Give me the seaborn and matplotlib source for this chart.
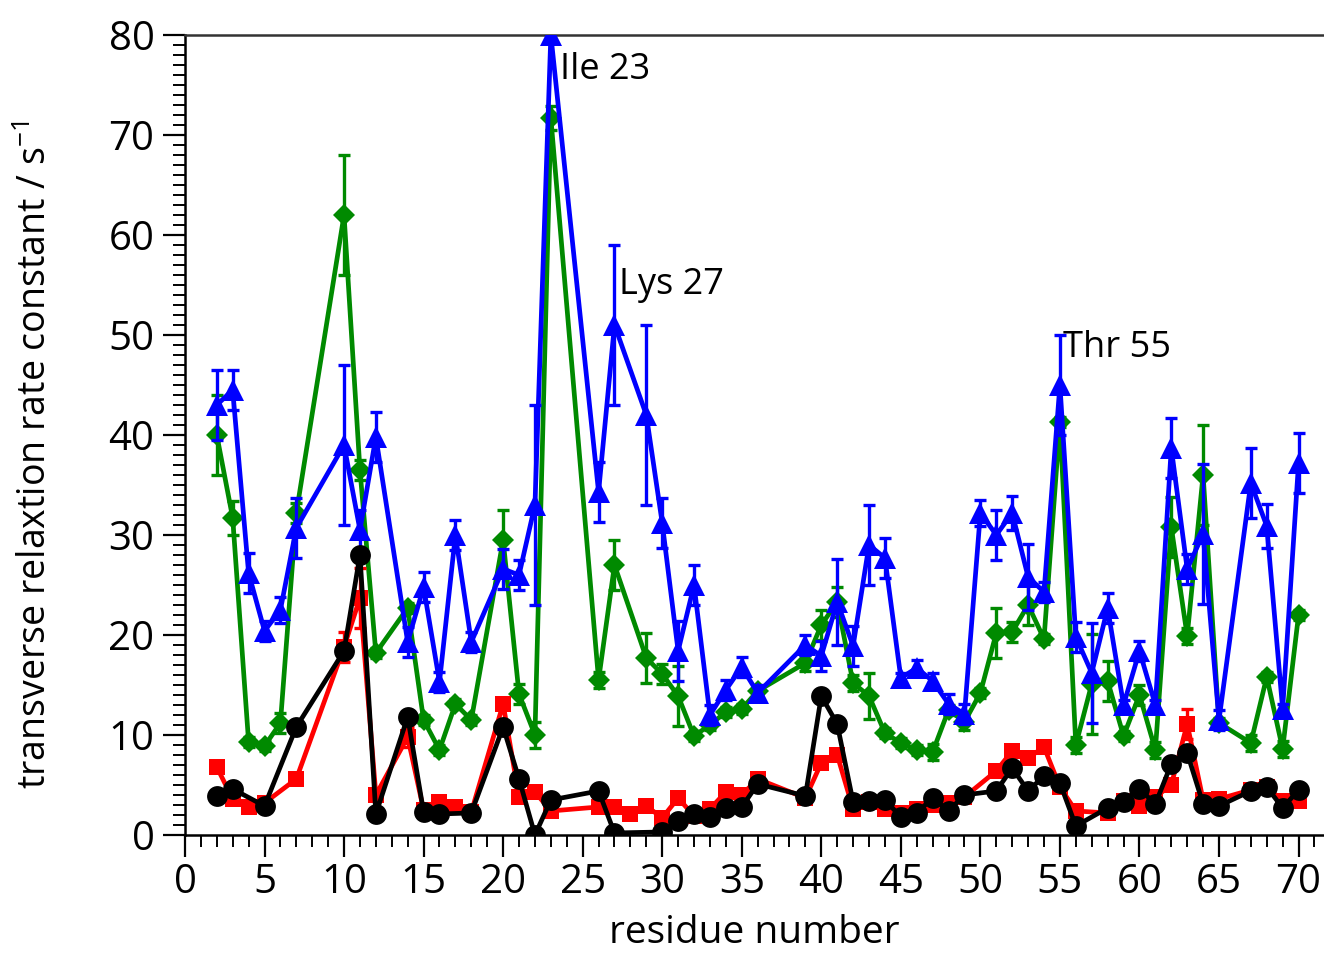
import matplotlib
matplotlib.use("Agg")
import matplotlib.pyplot as plt
import seaborn as sns
import pandas as pd
from matplotlib.ticker import MultipleLocator

# ---------------- data ----------------
res_bg = [2, 3, 4, 5, 6, 7, 10, 11, 12, 14, 15, 16, 17, 18, 20, 21, 22, 23, 26, 27,
          29, 30, 31, 32, 33, 34, 35, 36, 39, 40, 41, 42, 43, 44, 45, 46, 47, 48, 49, 50,
          51, 52, 53, 54, 55, 56, 57, 58, 59, 60, 61, 62, 63, 64, 65, 67, 68, 69, 70]

blue_vals = [43, 44.5, 26.2, 20.4, 22.5, 30.7, 39, 30.5, 39.8, 19.3, 24.8, 15.3, 30, 19.3, 26.6, 26, 33, 80, 34.3, 51,
             42, 31.2, 18.4, 25, 12, 14.5, 16.8, 14.2, 19, 17.9, 23.3, 18.9, 29, 27.7, 15.7, 16.7, 15.4, 13.1, 12.1, 32.2,
             30, 32.2, 25.8, 24.3, 45, 19.8, 16.2, 22.7, 13, 18.4, 13, 38.7, 26.6, 30.1, 11.5, 35.2, 30.9, 12.6, 37.2]
blue_err = [3.5, 2, 2, 1, 1.3, 3, 8, 2, 2.5, 1.5, 1.5, 1, 1.5, 1, 2, 1.5, 10, 0.5, 3, 8,
            9, 2.5, 3, 2, 1, 1, 1, 0.8, 1, 1.5, 4.3, 2, 4, 2, 0.5, 0.8, 0.8, 1, 1, 1.3,
            2.5, 1.7, 3.3, 1, 5, 1.5, 5, 1.5, 0.5, 1, 0.5, 3, 1.5, 7, 1, 3.5, 2.2, 0.5, 3]

green_vals = [40, 31.7, 9.3, 8.9, 11.2, 32.2, 62, 36.5, 18.2, 22.7, 11.5, 8.5, 13.1, 11.5, 29.5, 14.1, 10, 71.7, 15.5, 27,
              17.7, 16.1, 13.9, 9.9, 11, 12.3, 12.6, 14.4, 17.2, 21, 23.3, 15.2, 13.9, 10.2, 9.2, 8.5, 8.3, 12.5, 11.3, 14.2,
              20.2, 20.3, 23, 19.6, 41.3, 9, 15.1, 15.4, 9.9, 14, 8.5, 30.8, 19.9, 36, 11.2, 9.2, 15.8, 8.6, 22]
green_err = [4, 1.7, 0.5, 0.5, 1, 1, 6, 1, 0.5, 0.5, 0.5, 0.5, 0.5, 0.5, 3, 1, 1.3, 1.2, 0.8, 2.5,
             2.5, 1, 3, 0.5, 0.5, 0.5, 0.5, 0.5, 0.8, 1.5, 1.5, 0.8, 2.3, 0.5, 0.5, 0.5, 0.8, 0.5, 0.8, 0.5,
             2.5, 1, 2, 0.5, 0.5, 0.8, 5, 2, 0.5, 1, 0.8, 3, 0.8, 5, 0.5, 0.8, 0.5, 0.8, 0.5]

res_red = [2, 3, 4, 5, 7, 10, 11, 12, 14, 15, 16, 17, 18, 20, 21, 22, 23, 26, 27, 28,
           29, 30, 31, 32, 33, 34, 35, 36, 39, 40, 41, 42, 43, 44, 45, 46, 47, 48, 49, 51,
           52, 53, 54, 55, 56, 58, 59, 60, 61, 62, 63, 64, 65, 67, 68, 69, 70]
red_vals = [6.8, 3.6, 2.8, 3.2, 5.6, 18.8, 23.7, 4, 9.8, 2.5, 3.3, 2.8, 2.3, 13.1, 3.8, 4.3, 2.4, 2.8, 2.8, 2.1,
            2.9, 1.7, 3.7, 1.9, 2.6, 4.3, 4, 5.6, 3.7, 7.2, 8, 2.6, 3.3, 2.6, 2.2, 2.6, 3, 3.2, 3.8, 6.4,
            8.4, 7.7, 8.8, 4.8, 2.4, 2.2, 3.4, 2.9, 3.8, 5, 11.1, 3.5, 3.6, 4.5, 4.8, 3.4, 3.4]
red_err = [0.3, 0.3, 0.3, 0.3, 0.3, 1.5, 3, 0.3, 1, 0.3, 0.3, 0.3, 0.3, 0.5, 0.3, 0.3, 0.3, 0.3, 0.3, 0.3,
           0.3, 0.3, 0.3, 0.3, 0.3, 0.3, 0.3, 0.5, 0.3, 0.3, 0.3, 0.3, 0.3, 0.3, 0.3, 0.3, 0.3, 0.3, 0.3, 0.3,
           0.3, 0.3, 0.3, 0.3, 0.3, 0.3, 0.3, 0.3, 0.3, 0.3, 1.5, 0.3, 0.3, 0.3, 0.3, 0.3, 0.3]

res_black = [2, 3, 5, 7, 10, 11, 12, 14, 15, 16, 18, 20, 21, 22, 23, 26, 27, 30, 31, 32,
             33, 34, 35, 36, 39, 40, 41, 42, 43, 44, 45, 46, 47, 48, 49, 51, 52, 53, 54, 55,
             56, 58, 59, 60, 61, 62, 63, 64, 65, 67, 68, 69, 70]
black_vals = [3.9, 4.6, 2.9, 10.8, 18.4, 28, 2.1, 11.8, 2.3, 2.1, 2.2, 10.8, 5.6, 0, 3.5, 4.4, 0.2, 0.3, 1.4, 2.1,
              1.8, 2.7, 2.8, 5.1, 3.9, 13.9, 11.1, 3.3, 3.4, 3.5, 1.8, 2.2, 3.7, 2.4, 4, 4.4, 6.7, 4.4, 5.9, 5.2,
              0.9, 2.7, 3.3, 4.6, 3.1, 7.1, 8.2, 3.1, 2.9, 4.4, 4.8, 2.7, 4.5]

annotations = [("Ile 23", 23.6, 76.5), ("Lys 27", 27.3, 55.0), ("Thr 55", 55.2, 48.7)]

x_label = "residue number"
y_label = "transverse relaxtion rate constant / s$^{\\mathregular{-1}}$"

# ---------------- style ----------------
sns.set_theme(style="ticks")
plt.rcParams["font.family"] = ["Open Sans", "DejaVu Sans"]
plt.rcParams["text.color"] = "black"
plt.rcParams["axes.labelcolor"] = "black"
plt.rcParams["xtick.color"] = "black"
plt.rcParams["ytick.color"] = "black"

fig = plt.figure(figsize=(13.24, 9.56), dpi=100)
ax = fig.add_axes([0.1397, 0.1266, 1.0 - 0.1397, 0.9634 - 0.1266])

series = [
    (res_bg, green_vals, green_err, "#008a00", "D", 11, 2),
    (res_bg, blue_vals, blue_err, "#0000ff", "^", 16, 3),
    (res_red, red_vals, red_err, "#ff0000", "s", 12, 4),
    (res_black, black_vals, None, "#000000", "o", 15, 5),
]

for xs, ys, errs, col, mk, ms, z in series:
    df = pd.DataFrame({"x": xs, "y": ys})
    if errs is not None:
        ax.errorbar(xs, ys, yerr=errs, fmt="none", ecolor=col, elinewidth=2.4,
                    capsize=4, capthick=2.4, zorder=z)
    sns.lineplot(data=df, x="x", y="y", ax=ax, color=col, linewidth=3.4,
                 marker=mk, markersize=ms, markeredgewidth=0, sort=False,
                 estimator=None, zorder=z + 0.5)

for txt, xa, ya in annotations:
    ax.text(xa, ya, txt, fontsize=26, ha="left", va="center", color="black", zorder=10)

ax.set_xlim(0, 71.6)
ax.set_ylim(0, 80)
ax.xaxis.set_major_locator(MultipleLocator(5))
ax.xaxis.set_minor_locator(MultipleLocator(1))
ax.yaxis.set_major_locator(MultipleLocator(10))
ax.yaxis.set_minor_locator(MultipleLocator(1))
ax.tick_params(axis="both", which="major", direction="out", length=16, width=1.6,
               labelsize=29, color="black", labelcolor="black", pad=6)
ax.tick_params(axis="both", which="minor", direction="out", length=8.5, width=1.4, color="black")
ax.tick_params(axis="x", which="major", pad=4)

for s in ["left", "bottom"]:
    ax.spines[s].set_color("black")
    ax.spines[s].set_linewidth(1.8)
ax.spines["top"].set_color("#333333")
ax.spines["top"].set_linewidth(1.8)
ax.spines["right"].set_visible(False)

ax.set_xlabel(x_label, fontsize=28, labelpad=8, color="black")
ax.set_ylabel(y_label, fontsize=27, color="black")
ax.yaxis.set_label_coords(-0.114, 0.475)
ax.grid(False)

fig.savefig("out.png", dpi=100)
